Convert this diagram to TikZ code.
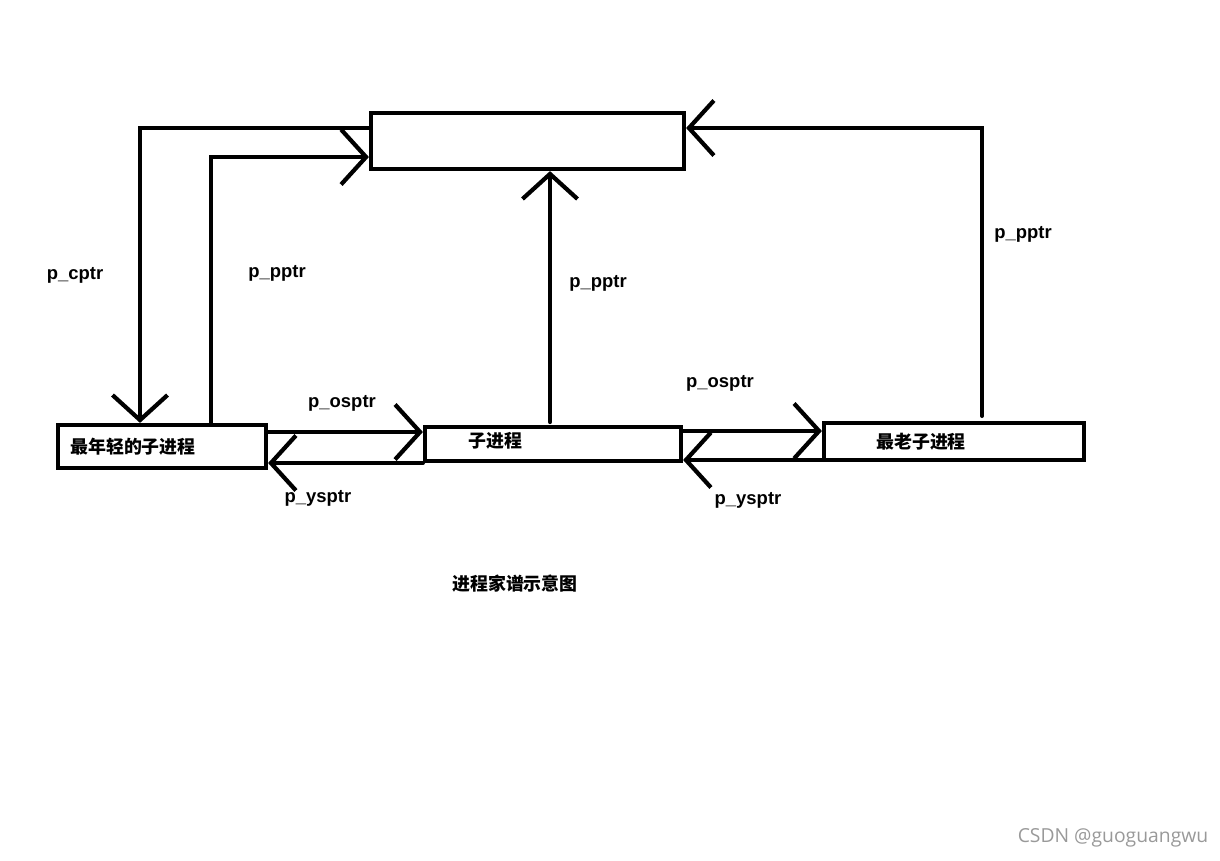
\documentclass[tikz,border=0pt]{standalone}
\usepackage{fontspec}
\setmainfont{Liberation Sans}
\newfontfamily\cjk{Noto Sans CJK SC}
\newfontfamily\wmfont{Open Sans}
\usetikzlibrary{arrows.meta,positioning}

\begin{document}
\begin{tikzpicture}[x=0.02cm,y=-0.02cm,
  blk/.style={draw,line width=2.4pt,inner sep=0pt},
  arr/.style={line width=2.4pt,line cap=round,-{Straight Barb[length=5mm,width=11mm]}},
  ptr/.style={font=\fontsize{10.5}{12}\selectfont\bfseries,inner sep=0pt},
  ctxt/.style={font=\fontsize{10.2}{12}\selectfont\cjk\bfseries,inner sep=0pt},
]
\useasboundingbox (0,0) rectangle (1220,860);
% boxes
\node[blk,minimum width=6.26cm,minimum height=1.12cm] (top) at (527.5,141) {};
\node[blk,minimum width=4.16cm,minimum height=0.86cm] (young) at (162,446.5) {};
\node[blk,minimum width=5.12cm,minimum height=0.68cm] (mid) at (553,444) {};
\node[blk,minimum width=5.20cm,minimum height=0.74cm] (old) at (954,441.5) {};
\node[ctxt,right=0.28cm of young.west] (youngt) {最年轻的子进程};
\node[ctxt,right=0.90cm of mid.west,yshift=0.06cm] (midt) {子进程};
\node[ctxt,right=1.08cm of old.west] (oldt) {最老子进程};
% corner points
\coordinate (cp) at (140,128);
\coordinate (pp1) at (211,157);
\coordinate (pp2) at (550,422);
\coordinate (pp3) at (982,128);
\coordinate (os1) at (0,432);
\coordinate (ys1) at (0,463);
\coordinate (os2) at (0,431);
\coordinate (ys2) at (0,460);
% pointers
\draw[arr] (top.west|-cp) -- (cp) -- (cp|-young.north);
\draw[arr] (pp1|-young.north) -- (pp1) -- (pp1-|top.west);
\draw[arr] (pp2) -- (pp2|-top.south);
\draw[arr] ([yshift=0.1cm]pp3|-old.north) -- (pp3) -- (pp3-|top.east);
\draw[arr] (young.east|-os1) -- (mid.west|-os1);
\draw[arr] (mid.west|-ys1) -- (young.east|-ys1);
\draw[arr] (mid.east|-os2) -- (old.west|-os2);
\draw[arr] (old.west|-ys2) -- (mid.east|-ys2);
% labels
\node[ptr] (l1) at (75,275) {p\_cptr};
\node[ptr] (l2) at (277,273) {p\_pptr};
\node[ptr] (l3) at (598,283) {p\_pptr};
\node[ptr] (l4) at (1023,234) {p\_pptr};
\node[ptr] (l5) at (342,403) {p\_osptr};
\node[ptr] (l6) at (318,498) {p\_ysptr};
\node[ptr] (l7) at (720,383) {p\_osptr};
\node[ptr] (l8) at (748,500) {p\_ysptr};
\node[ctxt] (cap) at (515,584) {进程家谱示意图};
\node[font=\fontsize{11}{13}\selectfont\wmfont,text=gray!80,inner sep=0pt] (wm) at (1113,838) {CSDN @guoguangwu};
\end{tikzpicture}
\end{document}
